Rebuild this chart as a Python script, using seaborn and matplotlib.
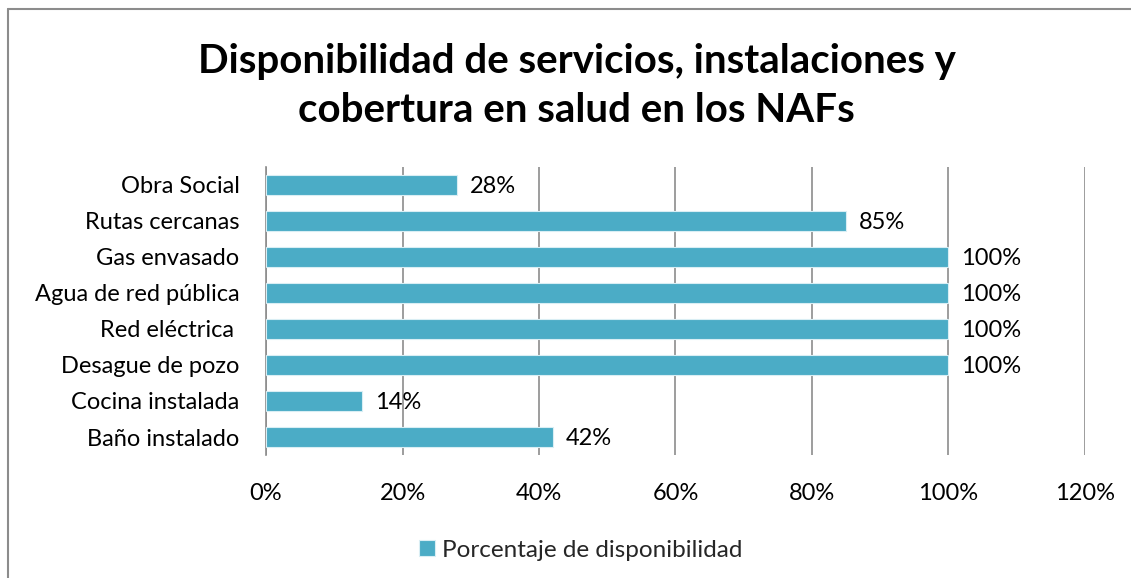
import matplotlib
matplotlib.use('Agg')
import matplotlib.pyplot as plt
import seaborn as sns
import pandas as pd

# datos del grafico
categorias = ['Obra Social', 'Rutas cercanas', 'Gas envasado', 'Agua de red pública',
              'Red eléctrica ', 'Desague de pozo', 'Cocina instalada', 'Baño instalado']
porcentajes = [28, 85, 100, 100, 100, 100, 14, 42]
ticks_x = [0, 20, 40, 60, 80, 100, 120]
serie = 'Porcentaje de disponibilidad'
titulo = 'Disponibilidad de servicios, instalaciones y\ncobertura en salud en los NAFs'

df = pd.DataFrame({'Categoria': categorias, 'Valor': porcentajes, 'Serie': serie})

sns.set_theme(style='white')
plt.rcParams['font.family'] = ['Lato', 'DejaVu Sans']

color_barra = '#4BACC6'

fig = plt.figure(figsize=(11.31, 5.78), dpi=100)
ax = fig.add_axes([0.2352, 0.2128, 0.7241, 0.4983])

sns.barplot(data=df, y='Categoria', x='Valor', hue='Serie', palette=[color_barra],
            saturation=1, width=0.56, edgecolor='#d9eef4', linewidth=0.8, ax=ax,
            legend=True, zorder=3)

ax.set_xlim(0, 120)
ax.set_ylim(7.5, -0.5)
ax.set_xticks(ticks_x)
ax.set_xticklabels([f'{t}%' for t in ticks_x])
ax.xaxis.grid(True, color='#8c8c8c', linewidth=1.2, zorder=0)
ax.yaxis.grid(False)
for s in ['top', 'right', 'bottom']:
    ax.spines[s].set_visible(False)
ax.spines['left'].set_color('#8c8c8c')
ax.spines['left'].set_linewidth(1.2)
ax.tick_params(axis='x', length=0, pad=20, labelsize=17, colors='black')
ax.tick_params(axis='y', length=0, pad=19, labelsize=17, colors='black')
ax.set_xlabel('')
ax.set_ylabel('')

# etiquetas de valor
for i, v in enumerate(porcentajes):
    ax.text(v + 1.9, i + 0.05, f'{v}%', va='center', ha='left', fontsize=17, color='black')

ax.legend(loc='center', bbox_to_anchor=(0.384, -0.33), frameon=False, fontsize=17.5,
          handlelength=0.65, handleheight=0.65, handletextpad=0.3)

fig.suptitle(titulo, x=0.51, y=0.925, fontsize=29, fontweight='bold', linespacing=1.4,
             color='black')

# borde del grafico
fig.add_artist(plt.Line2D([0.007, 0.007], [0, 0.985], color='#8c8c8c', lw=1.5))
fig.add_artist(plt.Line2D([0.007, 1.0], [0.985, 0.985], color='#8c8c8c', lw=1.5))

fig.savefig('out.png', dpi=100)
